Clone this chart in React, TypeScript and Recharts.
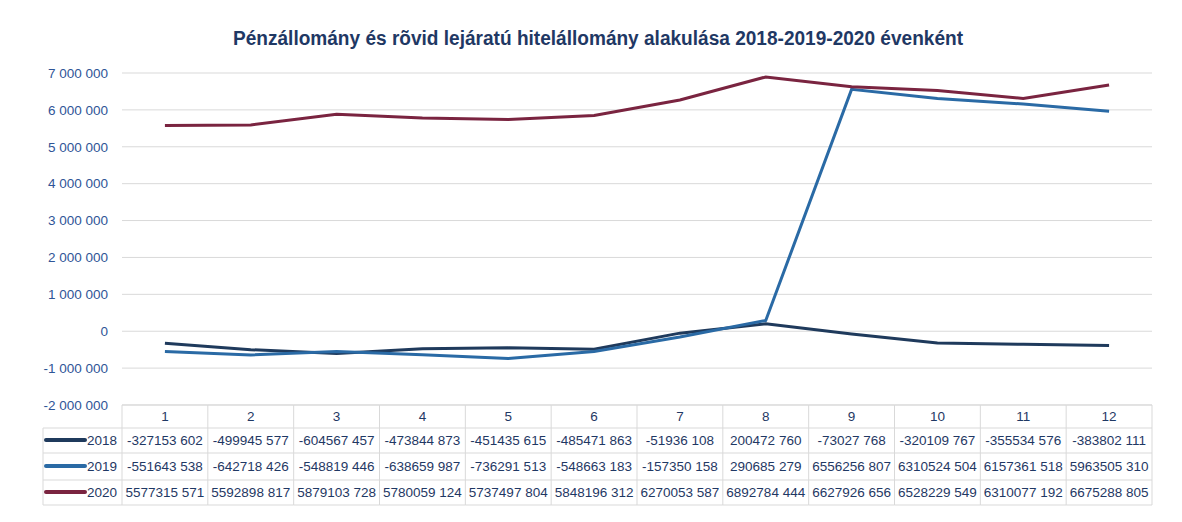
import { LineChart, Line, XAxis, YAxis, CartesianGrid } from 'recharts';

// Excel-ish table chart: cash vs short-term loans, 2018-2020 by month
const months = ['1', '2', '3', '4', '5', '6', '7', '8', '9', '10', '11', '12'];

const values2018 = [
  -327153602, -499945577, -604567457, -473844873, -451435615, -485471863,
  -51936108, 200472760, -73027768, -320109767, -355534576, -383802111,
];
const values2019 = [
  -551643538, -642718426, -548819446, -638659987, -736291513, -548663183,
  -157350158, 290685279, 6556256807, 6310524504, 6157361518, 5963505310,
];
const values2020 = [
  5577315571, 5592898817, 5879103728, 5780059124, 5737497804, 5848196312,
  6270053587, 6892784444, 6627926656, 6528229549, 6310077192, 6675288805,
];

const yTicks = [
  -2000000000, -1000000000, 0, 1000000000, 2000000000, 3000000000,
  4000000000, 5000000000, 6000000000, 7000000000,
];

const title = 'Pénzállomány és rõvid lejáratú hitelállomány alakulása 2018-2019-2020 évenként';

const series = [
  { key: 'y2018', name: '2018', color: '#1F3A5C', values: values2018 },
  { key: 'y2019', name: '2019', color: '#2A6AA5', values: values2019 },
  { key: 'y2020', name: '2020', color: '#7A2440', values: values2020 },
];

const data = months.map((m, i) => ({
  month: m,
  y2018: values2018[i],
  y2019: values2019[i],
  y2020: values2020[i],
}));

const W = 1166;
const H = 506;
const PLOT_LEFT = 114;
const PLOT_RIGHT = 22;
const BAND = (W - PLOT_LEFT - PLOT_RIGHT) / months.length;
const FONT = '"Liberation Sans", Arial, sans-serif';
const GRID = '#d9d9d9';
const TEXT = '#1F3864';

// table cells show the thousands part, then the last three digits
const fmtTable = (v: number) => {
  const a = Math.abs(v);
  return `${v < 0 ? '-' : ''}${Math.floor(a / 1000)} ${String(a % 1000).padStart(3, '0')}`;
};

// axis is labelled in thousands
const fmtAxis = (v: number) => {
  const n = Math.round(v / 1000);
  const s = Math.abs(n).toString().replace(/\B(?=(\d{3})+(?!\d))/g, ' ');
  return (n < 0 ? '-' : '') + s;
};

const rowTops = [0, 23, 48, 75, 100];
const rowBaselines = [40, 66, 92];

const TableTick = (props: any) => {
  const { x, y, payload } = props;
  const i = months.indexOf(String(payload.value));
  const left = x - BAND / 2;
  const right = x + BAND / 2;
  const labelLeft = left - 79;
  return (
    <g fontFamily={FONT} fontSize={13.5} fill={TEXT}>
      {rowTops.map((t) => (
        <line key={t} x1={left} x2={right} y1={y + t} y2={y + t} stroke={GRID} />
      ))}
      <line x1={left} x2={left} y1={y} y2={y + 100} stroke={GRID} />
      {i === months.length - 1 && <line x1={right} x2={right} y1={y} y2={y + 100} stroke={GRID} />}
      <text x={x} y={y + 16} textAnchor="middle">{payload.value}</text>
      {series.map((s, r) => (
        <text key={s.key} x={x} y={y + rowBaselines[r]} textAnchor="middle">
          {fmtTable(s.values[i])}
        </text>
      ))}
      {i === 0 && (
        <g>
          {rowTops.slice(1).map((t) => (
            <line key={t} x1={labelLeft} x2={left} y1={y + t} y2={y + t} stroke={GRID} />
          ))}
          <line x1={labelLeft} x2={labelLeft} y1={y + 23} y2={y + 100} stroke={GRID} />
          {series.map((s, r) => (
            <g key={s.key}>
              <line
                x1={labelLeft + 3}
                x2={labelLeft + 42}
                y1={y + rowBaselines[r] - 5}
                y2={y + rowBaselines[r] - 5}
                stroke={s.color}
                strokeWidth={4}
                strokeLinecap="round"
              />
              <text x={labelLeft + 44} y={y + rowBaselines[r]}>{s.name}</text>
            </g>
          ))}
        </g>
      )}
    </g>
  );
};

export default function App() {
  return (
    <div style={{ position: 'relative', width: W, height: H, background: '#fff' }}>
      <svg width={W} height={50} style={{ position: 'absolute', left: 0, top: 0 }}>
        <text
          x={590}
          y={37}
          textAnchor="middle"
          fontFamily={FONT}
          fontWeight="bold"
          fontSize={20}
          fill={TEXT}
          textLength={730}
          lengthAdjust="spacingAndGlyphs"
        >
          {title}
        </text>
      </svg>
      <LineChart
        width={W}
        height={H}
        data={data}
        margin={{ top: 65, right: PLOT_RIGHT, left: 0, bottom: 9 }}
      >
        <CartesianGrid vertical={false} stroke={GRID} />
        <XAxis
          dataKey="month"
          axisLine={false}
          tickLine={false}
          tickSize={0}
          tickMargin={0}
          height={100}
          interval={0}
          padding={{ left: BAND / 2, right: BAND / 2 }}
          tick={<TableTick />}
        />
        <YAxis
          width={PLOT_LEFT}
          domain={[-2000000000, 7000000000]}
          ticks={yTicks}
          tickFormatter={fmtAxis}
          axisLine={false}
          tickLine={false}
          tickMargin={8}
          tick={{ fill: '#2F5597', fontSize: 13.5, fontFamily: FONT }}
        />
        {series.map((s) => (
          <Line
            key={s.key}
            type="linear"
            dataKey={s.key}
            name={s.name}
            stroke={s.color}
            strokeWidth={3}
            dot={false}
            activeDot={false}
            isAnimationActive={false}
          />
        ))}
      </LineChart>
    </div>
  );
}
